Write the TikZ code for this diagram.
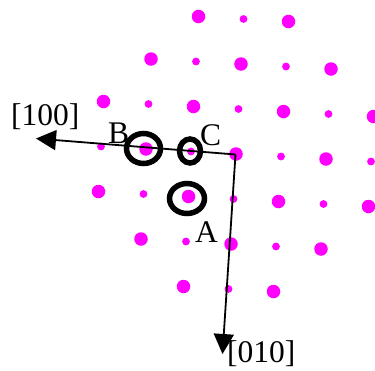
\documentclass[tikz,border=0pt]{standalone}
\usepackage{fontspec}
\setmainfont{Liberation Serif}
\usetikzlibrary{arrows.meta,shapes.geometric}
\definecolor{spotcol}{RGB}{255,0,255}
\begin{document}
\begin{tikzpicture}[x=1pt,y=-1pt,
 spot/.style={circle,fill=spotcol,inner sep=0pt,minimum size=#1},
 ring/.style={ellipse,draw,line width=5.5pt,inner sep=0pt},
 axisline/.style={line width=1.8pt,-{Triangle[length=20pt,width=20pt]}},
 lbl/.style={inner sep=0pt,font=\fontsize{31.5}{34}\selectfont,anchor=base west}]
\useasboundingbox (0,0) rectangle (375,370);
\foreach \j in {-3,...,3}{
  \pgfmathtruncatemacro\im{min(3,4-abs(\j))}
  \foreach \i in {-\im,...,\im}{
    \pgfmathtruncatemacro\pty{mod(abs(\i+\j),2)}
    \pgfmathsetmacro\sz{\pty==0 ? 13.5 : 7.8}
    \node[spot=\sz pt] (d\i x\j) at ({236+45*\i-2.5*\j},{154+2.5*\i+45*\j}) {};
  }
}
\coordinate (O) at (235.5,154.5);
\coordinate (t100) at (36,138.5);
\coordinate (t010) at (222.5,354);
\draw[axisline] (O) -- (t100);
\draw[axisline] (O) -- (t010);
\node[ring,minimum width=34pt,minimum height=30pt] (rB) at (143.5,148.5) {};
\node[ring,minimum width=21pt,minimum height=24pt] (rC) at (190,151) {};
\node[ring,minimum width=35pt,minimum height=30pt] (rA) at (187,198.5) {};
\node[lbl] (l100) at (11,125) {[100]};
\node[lbl] (l010) at (227,362) {[010]};
\node[lbl] (lB) at (108,143) {B};
\node[lbl] (lC) at (200,145) {C};
\node[lbl] (lA) at (195,242) {A};
\end{tikzpicture}
\end{document}
